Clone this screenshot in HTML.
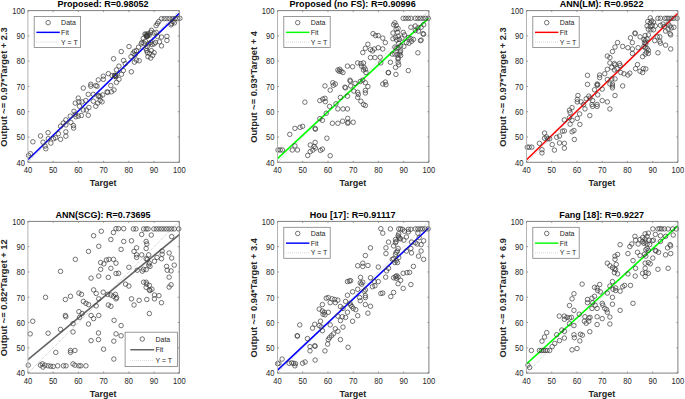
<!DOCTYPE html><html><head><meta charset="utf-8"><style>html,body{margin:0;padding:0;background:#fff;}svg{display:block}text{font-family:"Liberation Sans",sans-serif;}</style></head><body>
<svg width="685" height="399" viewBox="0 0 685 399">
<svg x="0" y="0" width="685" height="399" overflow="hidden"><clipPath id="c0"><rect x="27.9" y="10.6" width="151.4" height="151.7"/></clipPath><g clip-path="url(#c0)" fill="none" stroke="#3a3a3a" stroke-width="0.7"><line x1="27.90" y1="162.30" x2="179.30" y2="10.60" stroke="#999" stroke-width="0.7" stroke-dasharray="0.8 1.2"/></g></svg>
<svg x="0" y="0" width="685" height="399" overflow="hidden"><g clip-path="url(#c0)" fill="none"><line x1="27.90" y1="159.80" x2="179.30" y2="13.31" stroke="#0000ff" stroke-width="1.6"/></g></svg>
<g fill="none" stroke="#3a3a3a" stroke-width="0.7"><circle cx="30.38" cy="153.73" r="2.25"/><circle cx="28.50" cy="155.36" r="2.25"/><circle cx="32.89" cy="141.82" r="2.25"/><circle cx="40.53" cy="135.93" r="2.25"/><circle cx="48.05" cy="132.67" r="2.25"/><circle cx="43.04" cy="142.20" r="2.25"/><circle cx="45.80" cy="148.71" r="2.25"/><circle cx="48.30" cy="138.69" r="2.25"/><circle cx="50.81" cy="143.08" r="2.25"/><circle cx="53.57" cy="138.69" r="2.25"/><circle cx="55.57" cy="137.81" r="2.25"/><circle cx="58.33" cy="133.68" r="2.25"/><circle cx="60.58" cy="139.32" r="2.25"/><circle cx="60.58" cy="126.16" r="2.25"/><circle cx="63.34" cy="123.03" r="2.25"/><circle cx="65.85" cy="119.89" r="2.25"/><circle cx="65.85" cy="131.80" r="2.25"/><circle cx="65.85" cy="136.18" r="2.25"/><circle cx="65.85" cy="124.90" r="2.25"/><circle cx="70.23" cy="116.13" r="2.25"/><circle cx="70.86" cy="122.40" r="2.25"/><circle cx="73.37" cy="125.53" r="2.25"/><circle cx="73.62" cy="128.04" r="2.25"/><circle cx="75.25" cy="114.25" r="2.25"/><circle cx="75.87" cy="116.76" r="2.25"/><circle cx="78.25" cy="98.09" r="2.25"/><circle cx="78.88" cy="101.85" r="2.25"/><circle cx="82.01" cy="101.85" r="2.25"/><circle cx="79.51" cy="106.23" r="2.25"/><circle cx="83.27" cy="109.99" r="2.25"/><circle cx="86.40" cy="109.99" r="2.25"/><circle cx="88.90" cy="107.49" r="2.25"/><circle cx="85.77" cy="100.59" r="2.25"/><circle cx="88.28" cy="94.33" r="2.25"/><circle cx="93.29" cy="94.33" r="2.25"/><circle cx="93.29" cy="101.22" r="2.25"/><circle cx="95.80" cy="106.23" r="2.25"/><circle cx="97.68" cy="103.10" r="2.25"/><circle cx="98.93" cy="95.58" r="2.25"/><circle cx="100.18" cy="96.83" r="2.25"/><circle cx="102.06" cy="101.85" r="2.25"/><circle cx="102.69" cy="94.95" r="2.25"/><circle cx="100.18" cy="100.59" r="2.25"/><circle cx="83.27" cy="88.06" r="2.25"/><circle cx="90.78" cy="86.18" r="2.25"/><circle cx="90.78" cy="84.30" r="2.25"/><circle cx="95.80" cy="85.56" r="2.25"/><circle cx="97.05" cy="86.18" r="2.25"/><circle cx="98.30" cy="79.92" r="2.25"/><circle cx="103.32" cy="76.16" r="2.25"/><circle cx="103.32" cy="79.29" r="2.25"/><circle cx="108.33" cy="73.65" r="2.25"/><circle cx="107.70" cy="92.45" r="2.25"/><circle cx="110.83" cy="85.56" r="2.25"/><circle cx="111.46" cy="91.82" r="2.25"/><circle cx="113.97" cy="89.94" r="2.25"/><circle cx="112.09" cy="75.53" r="2.25"/><circle cx="114.59" cy="75.53" r="2.25"/><circle cx="115.85" cy="76.78" r="2.25"/><circle cx="116.47" cy="82.42" r="2.25"/><circle cx="118.98" cy="79.29" r="2.25"/><circle cx="118.98" cy="66.13" r="2.25"/><circle cx="116.47" cy="69.89" r="2.25"/><circle cx="121.49" cy="74.28" r="2.25"/><circle cx="123.37" cy="70.52" r="2.25"/><circle cx="125.25" cy="63.63" r="2.25"/><circle cx="107.08" cy="91.82" r="2.25"/><circle cx="161.51" cy="18.66" r="2.25"/><circle cx="164.22" cy="18.66" r="2.25"/><circle cx="166.92" cy="18.66" r="2.25"/><circle cx="169.63" cy="18.66" r="2.25"/><circle cx="172.34" cy="18.66" r="2.25"/><circle cx="175.05" cy="18.66" r="2.25"/><circle cx="177.75" cy="18.66" r="2.25"/><circle cx="158.80" cy="21.50" r="2.25"/><circle cx="157.45" cy="23.53" r="2.25"/><circle cx="156.10" cy="25.56" r="2.25"/><circle cx="171.66" cy="23.53" r="2.25"/><circle cx="173.02" cy="21.50" r="2.25"/><circle cx="174.37" cy="22.86" r="2.25"/><circle cx="170.98" cy="24.89" r="2.25"/><circle cx="145.95" cy="34.36" r="2.25"/><circle cx="147.30" cy="35.71" r="2.25"/><circle cx="146.62" cy="36.39" r="2.25"/><circle cx="147.98" cy="33.68" r="2.25"/><circle cx="149.33" cy="35.04" r="2.25"/><circle cx="151.36" cy="30.30" r="2.25"/><circle cx="150.68" cy="32.33" r="2.25"/><circle cx="154.07" cy="33.01" r="2.25"/><circle cx="156.10" cy="32.33" r="2.25"/><circle cx="157.45" cy="36.39" r="2.25"/><circle cx="161.51" cy="37.07" r="2.25"/><circle cx="166.92" cy="36.39" r="2.25"/><circle cx="166.92" cy="40.45" r="2.25"/><circle cx="159.48" cy="41.80" r="2.25"/><circle cx="161.51" cy="45.86" r="2.25"/><circle cx="155.42" cy="42.48" r="2.25"/><circle cx="154.07" cy="43.83" r="2.25"/><circle cx="143.24" cy="38.42" r="2.25"/><circle cx="141.89" cy="42.48" r="2.25"/><circle cx="141.21" cy="43.83" r="2.25"/><circle cx="143.92" cy="43.16" r="2.25"/><circle cx="145.27" cy="41.13" r="2.25"/><circle cx="148.65" cy="43.83" r="2.25"/><circle cx="150.68" cy="42.48" r="2.25"/><circle cx="152.04" cy="44.51" r="2.25"/><circle cx="147.30" cy="46.54" r="2.25"/><circle cx="145.95" cy="48.57" r="2.25"/><circle cx="146.62" cy="50.60" r="2.25"/><circle cx="147.30" cy="52.63" r="2.25"/><circle cx="149.33" cy="53.31" r="2.25"/><circle cx="154.07" cy="52.63" r="2.25"/><circle cx="151.36" cy="50.60" r="2.25"/><circle cx="152.71" cy="55.34" r="2.25"/><circle cx="147.98" cy="56.69" r="2.25"/><circle cx="150.68" cy="58.05" r="2.25"/><circle cx="138.50" cy="47.22" r="2.25"/><circle cx="136.47" cy="50.60" r="2.25"/><circle cx="134.44" cy="51.28" r="2.25"/><circle cx="133.09" cy="53.31" r="2.25"/><circle cx="135.12" cy="54.66" r="2.25"/><circle cx="131.06" cy="56.69" r="2.25"/><circle cx="129.03" cy="46.54" r="2.25"/><circle cx="136.47" cy="60.08" r="2.25"/><circle cx="139.18" cy="60.75" r="2.25"/><circle cx="134.44" cy="62.11" r="2.25"/><circle cx="131.33" cy="71.80" r="2.25"/><circle cx="179.90" cy="18.30" r="2.25"/><circle cx="146.50" cy="35.50" r="2.25"/><circle cx="147.20" cy="36.40" r="2.25"/><circle cx="114.80" cy="75.60" r="2.25"/><circle cx="116.00" cy="75.20" r="2.25"/><circle cx="115.40" cy="76.40" r="2.25"/><circle cx="98.20" cy="96.30" r="2.25"/><circle cx="145.00" cy="34.00" r="2.25"/><circle cx="146.50" cy="36.20" r="2.25"/><circle cx="148.00" cy="35.00" r="2.25"/><circle cx="45.10" cy="146.10" r="2.25"/><circle cx="78.25" cy="116.13" r="2.25"/><circle cx="81.39" cy="115.51" r="2.25"/><circle cx="88.28" cy="115.26" r="2.25"/><circle cx="75.25" cy="103.10" r="2.25"/><circle cx="73.99" cy="111.25" r="2.25"/><circle cx="121.28" cy="51.58" r="2.25"/><circle cx="113.57" cy="58.75" r="2.25"/><circle cx="123.54" cy="60.48" r="2.25"/></g>
<path d="M27.90 10.60H179.30V162.30H27.90" fill="none" stroke="#808080" stroke-width="1"/>
<path d="M27.90 10.60V162.30" fill="none" stroke="#b4b4b4" stroke-width="1"/>
<path d="M27.90 162.30v-1.5M27.90 10.60v1.5M27.90 162.30h1.5M179.30 162.30h-1.5M53.13 162.30v-1.5M53.13 10.60v1.5M27.90 137.02h1.5M179.30 137.02h-1.5M78.37 162.30v-1.5M78.37 10.60v1.5M27.90 111.73h1.5M179.30 111.73h-1.5M103.60 162.30v-1.5M103.60 10.60v1.5M27.90 86.45h1.5M179.30 86.45h-1.5M128.83 162.30v-1.5M128.83 10.60v1.5M27.90 61.17h1.5M179.30 61.17h-1.5M154.07 162.30v-1.5M154.07 10.60v1.5M27.90 35.88h1.5M179.30 35.88h-1.5M179.30 162.30v-1.5M179.30 10.60v1.5M27.90 10.60h1.5M179.30 10.60h-1.5" stroke="#808080" stroke-width="0.8" fill="none"/>
<text transform="translate(27.90 173.30) scale(1 1.1)" font-size="7.6" fill="#262626" text-anchor="middle">40</text>
<text transform="translate(24.90 165.60) scale(1 1.1)" font-size="7.6" fill="#262626" text-anchor="end">40</text>
<text transform="translate(53.13 173.30) scale(1 1.1)" font-size="7.6" fill="#262626" text-anchor="middle">50</text>
<text transform="translate(24.90 140.32) scale(1 1.1)" font-size="7.6" fill="#262626" text-anchor="end">50</text>
<text transform="translate(78.37 173.30) scale(1 1.1)" font-size="7.6" fill="#262626" text-anchor="middle">60</text>
<text transform="translate(24.90 115.03) scale(1 1.1)" font-size="7.6" fill="#262626" text-anchor="end">60</text>
<text transform="translate(103.60 173.30) scale(1 1.1)" font-size="7.6" fill="#262626" text-anchor="middle">70</text>
<text transform="translate(24.90 89.75) scale(1 1.1)" font-size="7.6" fill="#262626" text-anchor="end">70</text>
<text transform="translate(128.83 173.30) scale(1 1.1)" font-size="7.6" fill="#262626" text-anchor="middle">80</text>
<text transform="translate(24.90 64.47) scale(1 1.1)" font-size="7.6" fill="#262626" text-anchor="end">80</text>
<text transform="translate(154.07 173.30) scale(1 1.1)" font-size="7.6" fill="#262626" text-anchor="middle">90</text>
<text transform="translate(24.90 39.18) scale(1 1.1)" font-size="7.6" fill="#262626" text-anchor="end">90</text>
<text transform="translate(179.30 173.30) scale(1 1.1)" font-size="7.6" fill="#262626" text-anchor="middle">100</text>
<text transform="translate(24.90 13.90) scale(1 1.1)" font-size="7.6" fill="#262626" text-anchor="end">100</text>
<text transform="translate(103.00 7.10) scale(1 1.1)" font-size="9" font-weight="bold" fill="#000" text-anchor="middle" textLength="91.2" lengthAdjust="spacing">Proposed: R=0.98052</text>
<text transform="translate(103.20 185.70) scale(1 1.1)" font-size="9" font-weight="bold" fill="#262626" text-anchor="middle">Target</text>
<text transform="translate(7.20 86.95) rotate(-90)" font-size="9.3" font-weight="bold" fill="#262626" text-anchor="middle">Output ~= 0.97*Target + 2.3</text>
<rect x="34.20" y="16.50" width="46.4" height="31" fill="#fff" stroke="#808080" stroke-width="0.8"/>
<circle cx="48.11" cy="22.65" r="2.25" fill="none" stroke="#3a3a3a" stroke-width="0.7"/>
<line x1="36.40" y1="32.35" x2="59.81" y2="32.35" stroke="#0000ff" stroke-width="1.45"/>
<line x1="36.40" y1="42.05" x2="59.81" y2="42.05" stroke="#aaa" stroke-width="0.6" stroke-dasharray="0.8 1.2"/>
<text transform="translate(61.11 25.25) scale(1 1.1)" font-size="7" fill="#262626">Data</text>
<text transform="translate(61.11 34.95) scale(1 1.1)" font-size="7" fill="#262626">Fit</text>
<text transform="translate(61.11 44.65) scale(1 1.1)" font-size="7" fill="#262626">Y = T</text>
<svg x="0" y="0" width="685" height="399" overflow="hidden"><clipPath id="c1"><rect x="277.5" y="10.6" width="151.4" height="151.7"/></clipPath><g clip-path="url(#c1)" fill="none" stroke="#3a3a3a" stroke-width="0.7"><line x1="277.50" y1="162.30" x2="428.90" y2="10.60" stroke="#999" stroke-width="0.7" stroke-dasharray="0.8 1.2"/></g></svg>
<svg x="0" y="0" width="685" height="399" overflow="hidden"><g clip-path="url(#c1)" fill="none"><line x1="277.50" y1="158.71" x2="428.90" y2="17.93" stroke="#00ff00" stroke-width="1.6"/></g></svg>
<g fill="none" stroke="#3a3a3a" stroke-width="0.7"><circle cx="278.02" cy="149.96" r="2.25"/><circle cx="280.20" cy="149.96" r="2.25"/><circle cx="282.37" cy="149.96" r="2.25"/><circle cx="289.79" cy="134.37" r="2.25"/><circle cx="294.90" cy="128.36" r="2.25"/><circle cx="300.02" cy="127.34" r="2.25"/><circle cx="302.58" cy="126.32" r="2.25"/><circle cx="315.11" cy="128.36" r="2.25"/><circle cx="315.36" cy="129.26" r="2.25"/><circle cx="319.84" cy="118.65" r="2.25"/><circle cx="322.40" cy="120.31" r="2.25"/><circle cx="326.23" cy="113.28" r="2.25"/><circle cx="294.90" cy="145.87" r="2.25"/><circle cx="292.35" cy="149.96" r="2.25"/><circle cx="297.46" cy="149.96" r="2.25"/><circle cx="310.25" cy="144.98" r="2.25"/><circle cx="315.11" cy="142.42" r="2.25"/><circle cx="314.08" cy="146.51" r="2.25"/><circle cx="315.36" cy="148.05" r="2.25"/><circle cx="312.81" cy="150.09" r="2.25"/><circle cx="310.25" cy="151.62" r="2.25"/><circle cx="307.69" cy="155.46" r="2.25"/><circle cx="320.48" cy="150.35" r="2.25"/><circle cx="322.40" cy="149.07" r="2.25"/><circle cx="326.87" cy="138.20" r="2.25"/><circle cx="332.37" cy="123.25" r="2.25"/><circle cx="337.87" cy="123.25" r="2.25"/><circle cx="342.60" cy="121.20" r="2.25"/><circle cx="347.72" cy="118.39" r="2.25"/><circle cx="347.72" cy="123.25" r="2.25"/><circle cx="348.10" cy="122.23" r="2.25"/><circle cx="353.21" cy="122.23" r="2.25"/><circle cx="330.20" cy="155.71" r="2.25"/><circle cx="304.88" cy="102.16" r="2.25"/><circle cx="324.95" cy="85.92" r="2.25"/><circle cx="319.84" cy="100.62" r="2.25"/><circle cx="322.78" cy="99.09" r="2.25"/><circle cx="324.95" cy="98.32" r="2.25"/><circle cx="325.34" cy="101.65" r="2.25"/><circle cx="357.69" cy="62.92" r="2.25"/><circle cx="360.89" cy="63.56" r="2.25"/><circle cx="363.45" cy="62.92" r="2.25"/><circle cx="361.53" cy="66.11" r="2.25"/><circle cx="364.08" cy="67.39" r="2.25"/><circle cx="365.36" cy="69.31" r="2.25"/><circle cx="366.00" cy="72.50" r="2.25"/><circle cx="363.45" cy="69.95" r="2.25"/><circle cx="347.46" cy="66.11" r="2.25"/><circle cx="352.58" cy="66.75" r="2.25"/><circle cx="337.87" cy="69.95" r="2.25"/><circle cx="339.79" cy="69.31" r="2.25"/><circle cx="341.07" cy="71.23" r="2.25"/><circle cx="342.98" cy="72.50" r="2.25"/><circle cx="339.15" cy="71.23" r="2.25"/><circle cx="332.75" cy="82.73" r="2.25"/><circle cx="335.31" cy="84.01" r="2.25"/><circle cx="333.39" cy="85.29" r="2.25"/><circle cx="330.20" cy="90.14" r="2.25"/><circle cx="350.02" cy="80.17" r="2.25"/><circle cx="350.27" cy="81.20" r="2.25"/><circle cx="345.54" cy="87.84" r="2.25"/><circle cx="344.90" cy="87.20" r="2.25"/><circle cx="350.66" cy="85.92" r="2.25"/><circle cx="355.13" cy="83.37" r="2.25"/><circle cx="360.25" cy="81.45" r="2.25"/><circle cx="362.81" cy="80.17" r="2.25"/><circle cx="365.36" cy="82.73" r="2.25"/><circle cx="367.92" cy="86.56" r="2.25"/><circle cx="353.85" cy="91.04" r="2.25"/><circle cx="357.69" cy="92.32" r="2.25"/><circle cx="358.33" cy="94.49" r="2.25"/><circle cx="357.69" cy="97.43" r="2.25"/><circle cx="360.89" cy="101.26" r="2.25"/><circle cx="363.45" cy="104.46" r="2.25"/><circle cx="365.36" cy="105.48" r="2.25"/><circle cx="365.36" cy="90.40" r="2.25"/><circle cx="365.36" cy="92.95" r="2.25"/><circle cx="347.46" cy="96.15" r="2.25"/><circle cx="340.43" cy="97.43" r="2.25"/><circle cx="335.95" cy="103.82" r="2.25"/><circle cx="337.87" cy="108.93" r="2.25"/><circle cx="342.98" cy="108.93" r="2.25"/><circle cx="347.46" cy="108.93" r="2.25"/><circle cx="329.56" cy="106.38" r="2.25"/><circle cx="380.83" cy="62.92" r="2.25"/><circle cx="390.42" cy="62.28" r="2.25"/><circle cx="398.08" cy="62.28" r="2.25"/><circle cx="398.72" cy="64.83" r="2.25"/><circle cx="395.53" cy="67.39" r="2.25"/><circle cx="388.24" cy="72.50" r="2.25"/><circle cx="388.50" cy="72.76" r="2.25"/><circle cx="395.91" cy="74.42" r="2.25"/><circle cx="408.30" cy="70.59" r="2.25"/><circle cx="382.75" cy="84.01" r="2.25"/><circle cx="385.30" cy="82.09" r="2.25"/><circle cx="385.94" cy="84.65" r="2.25"/><circle cx="373.04" cy="33.65" r="2.25"/><circle cx="375.59" cy="35.56" r="2.25"/><circle cx="367.92" cy="44.26" r="2.25"/><circle cx="365.36" cy="48.35" r="2.25"/><circle cx="362.81" cy="52.56" r="2.25"/><circle cx="370.48" cy="49.62" r="2.25"/><circle cx="372.40" cy="50.90" r="2.25"/><circle cx="374.31" cy="48.98" r="2.25"/><circle cx="370.48" cy="57.55" r="2.25"/><circle cx="374.95" cy="57.55" r="2.25"/><circle cx="403.19" cy="18.31" r="2.25"/><circle cx="405.75" cy="18.31" r="2.25"/><circle cx="408.30" cy="18.31" r="2.25"/><circle cx="410.86" cy="18.31" r="2.25"/><circle cx="415.33" cy="18.31" r="2.25"/><circle cx="417.88" cy="18.31" r="2.25"/><circle cx="420.44" cy="18.31" r="2.25"/><circle cx="423.00" cy="18.31" r="2.25"/><circle cx="425.55" cy="18.31" r="2.25"/><circle cx="394.89" cy="22.78" r="2.25"/><circle cx="393.61" cy="24.70" r="2.25"/><circle cx="396.16" cy="25.34" r="2.25"/><circle cx="398.08" cy="28.53" r="2.25"/><circle cx="396.16" cy="29.17" r="2.25"/><circle cx="410.86" cy="27.26" r="2.25"/><circle cx="415.33" cy="25.98" r="2.25"/><circle cx="417.88" cy="27.89" r="2.25"/><circle cx="421.08" cy="27.26" r="2.25"/><circle cx="423.63" cy="24.70" r="2.25"/><circle cx="415.33" cy="30.45" r="2.25"/><circle cx="418.52" cy="31.09" r="2.25"/><circle cx="423.00" cy="33.65" r="2.25"/><circle cx="423.63" cy="34.29" r="2.25"/><circle cx="392.97" cy="33.01" r="2.25"/><circle cx="397.44" cy="32.37" r="2.25"/><circle cx="403.19" cy="32.37" r="2.25"/><circle cx="404.47" cy="34.92" r="2.25"/><circle cx="378.28" cy="35.56" r="2.25"/><circle cx="382.75" cy="38.12" r="2.25"/><circle cx="385.30" cy="42.59" r="2.25"/><circle cx="392.97" cy="38.76" r="2.25"/><circle cx="395.53" cy="37.48" r="2.25"/><circle cx="398.08" cy="36.20" r="2.25"/><circle cx="396.80" cy="40.04" r="2.25"/><circle cx="399.36" cy="39.40" r="2.25"/><circle cx="401.91" cy="38.12" r="2.25"/><circle cx="408.30" cy="37.48" r="2.25"/><circle cx="410.86" cy="38.76" r="2.25"/><circle cx="413.41" cy="39.40" r="2.25"/><circle cx="411.50" cy="41.32" r="2.25"/><circle cx="408.94" cy="43.23" r="2.25"/><circle cx="406.39" cy="42.59" r="2.25"/><circle cx="421.08" cy="40.04" r="2.25"/><circle cx="420.44" cy="40.68" r="2.25"/><circle cx="403.83" cy="46.43" r="2.25"/><circle cx="400.64" cy="45.79" r="2.25"/><circle cx="398.72" cy="43.23" r="2.25"/><circle cx="394.89" cy="47.07" r="2.25"/><circle cx="396.16" cy="48.35" r="2.25"/><circle cx="398.08" cy="47.71" r="2.25"/><circle cx="378.28" cy="47.71" r="2.25"/><circle cx="382.75" cy="48.98" r="2.25"/><circle cx="400.64" cy="50.90" r="2.25"/><circle cx="400.00" cy="52.18" r="2.25"/><circle cx="392.33" cy="54.10" r="2.25"/><circle cx="394.89" cy="54.10" r="2.25"/><circle cx="397.44" cy="54.74" r="2.25"/><circle cx="399.36" cy="54.10" r="2.25"/><circle cx="400.64" cy="55.38" r="2.25"/><circle cx="398.08" cy="57.93" r="2.25"/><circle cx="398.08" cy="59.21" r="2.25"/><circle cx="380.19" cy="57.29" r="2.25"/><circle cx="417.88" cy="52.82" r="2.25"/><circle cx="428.30" cy="18.30" r="2.25"/></g>
<path d="M277.50 10.60H428.90V162.30H277.50" fill="none" stroke="#808080" stroke-width="1"/>
<path d="M277.50 10.60V162.30" fill="none" stroke="#b4b4b4" stroke-width="1"/>
<path d="M277.50 162.30v-1.5M277.50 10.60v1.5M277.50 162.30h1.5M428.90 162.30h-1.5M302.73 162.30v-1.5M302.73 10.60v1.5M277.50 137.02h1.5M428.90 137.02h-1.5M327.97 162.30v-1.5M327.97 10.60v1.5M277.50 111.73h1.5M428.90 111.73h-1.5M353.20 162.30v-1.5M353.20 10.60v1.5M277.50 86.45h1.5M428.90 86.45h-1.5M378.43 162.30v-1.5M378.43 10.60v1.5M277.50 61.17h1.5M428.90 61.17h-1.5M403.67 162.30v-1.5M403.67 10.60v1.5M277.50 35.88h1.5M428.90 35.88h-1.5M428.90 162.30v-1.5M428.90 10.60v1.5M277.50 10.60h1.5M428.90 10.60h-1.5" stroke="#808080" stroke-width="0.8" fill="none"/>
<text transform="translate(277.50 173.30) scale(1 1.1)" font-size="7.6" fill="#262626" text-anchor="middle">40</text>
<text transform="translate(274.50 165.60) scale(1 1.1)" font-size="7.6" fill="#262626" text-anchor="end">40</text>
<text transform="translate(302.73 173.30) scale(1 1.1)" font-size="7.6" fill="#262626" text-anchor="middle">50</text>
<text transform="translate(274.50 140.32) scale(1 1.1)" font-size="7.6" fill="#262626" text-anchor="end">50</text>
<text transform="translate(327.97 173.30) scale(1 1.1)" font-size="7.6" fill="#262626" text-anchor="middle">60</text>
<text transform="translate(274.50 115.03) scale(1 1.1)" font-size="7.6" fill="#262626" text-anchor="end">60</text>
<text transform="translate(353.20 173.30) scale(1 1.1)" font-size="7.6" fill="#262626" text-anchor="middle">70</text>
<text transform="translate(274.50 89.75) scale(1 1.1)" font-size="7.6" fill="#262626" text-anchor="end">70</text>
<text transform="translate(378.43 173.30) scale(1 1.1)" font-size="7.6" fill="#262626" text-anchor="middle">80</text>
<text transform="translate(274.50 64.47) scale(1 1.1)" font-size="7.6" fill="#262626" text-anchor="end">80</text>
<text transform="translate(403.67 173.30) scale(1 1.1)" font-size="7.6" fill="#262626" text-anchor="middle">90</text>
<text transform="translate(274.50 39.18) scale(1 1.1)" font-size="7.6" fill="#262626" text-anchor="end">90</text>
<text transform="translate(428.90 173.30) scale(1 1.1)" font-size="7.6" fill="#262626" text-anchor="middle">100</text>
<text transform="translate(274.50 13.90) scale(1 1.1)" font-size="7.6" fill="#262626" text-anchor="end">100</text>
<text transform="translate(352.60 7.10) scale(1 1.1)" font-size="9" font-weight="bold" fill="#000" text-anchor="middle" textLength="126.2" lengthAdjust="spacing">Proposed (no FS): R=0.90996</text>
<text transform="translate(352.80 185.70) scale(1 1.1)" font-size="9" font-weight="bold" fill="#262626" text-anchor="middle">Target</text>
<text transform="translate(256.80 86.95) rotate(-90)" font-size="9.3" font-weight="bold" fill="#262626" text-anchor="middle">Output ~= 0.93*Target + 4</text>
<rect x="283.80" y="16.50" width="46.4" height="31" fill="#fff" stroke="#808080" stroke-width="0.8"/>
<circle cx="297.71" cy="22.65" r="2.25" fill="none" stroke="#3a3a3a" stroke-width="0.7"/>
<line x1="286.00" y1="32.35" x2="309.41" y2="32.35" stroke="#00ff00" stroke-width="1.45"/>
<line x1="286.00" y1="42.05" x2="309.41" y2="42.05" stroke="#aaa" stroke-width="0.6" stroke-dasharray="0.8 1.2"/>
<text transform="translate(310.71 25.25) scale(1 1.1)" font-size="7" fill="#262626">Data</text>
<text transform="translate(310.71 34.95) scale(1 1.1)" font-size="7" fill="#262626">Fit</text>
<text transform="translate(310.71 44.65) scale(1 1.1)" font-size="7" fill="#262626">Y = T</text>
<svg x="0" y="0" width="685" height="399" overflow="hidden"><clipPath id="c2"><rect x="526.5" y="10.6" width="151.4" height="151.7"/></clipPath><g clip-path="url(#c2)" fill="none" stroke="#3a3a3a" stroke-width="0.7"><line x1="526.50" y1="162.30" x2="677.90" y2="10.60" stroke="#999" stroke-width="0.7" stroke-dasharray="0.8 1.2"/></g></svg>
<svg x="0" y="0" width="685" height="399" overflow="hidden"><g clip-path="url(#c2)" fill="none"><line x1="526.50" y1="159.80" x2="677.90" y2="13.31" stroke="#ff0000" stroke-width="1.6"/></g></svg>
<g fill="none" stroke="#3a3a3a" stroke-width="0.7"><circle cx="527.28" cy="147.15" r="2.25"/><circle cx="529.20" cy="147.15" r="2.25"/><circle cx="531.75" cy="147.15" r="2.25"/><circle cx="539.43" cy="143.32" r="2.25"/><circle cx="541.98" cy="149.71" r="2.25"/><circle cx="541.98" cy="152.90" r="2.25"/><circle cx="544.54" cy="133.09" r="2.25"/><circle cx="544.54" cy="138.20" r="2.25"/><circle cx="546.46" cy="136.92" r="2.25"/><circle cx="547.74" cy="138.84" r="2.25"/><circle cx="549.66" cy="138.84" r="2.25"/><circle cx="552.21" cy="144.59" r="2.25"/><circle cx="554.39" cy="150.09" r="2.25"/><circle cx="556.69" cy="137.31" r="2.25"/><circle cx="559.50" cy="136.03" r="2.25"/><circle cx="559.50" cy="142.93" r="2.25"/><circle cx="564.36" cy="143.32" r="2.25"/><circle cx="564.36" cy="148.17" r="2.25"/><circle cx="562.45" cy="131.17" r="2.25"/><circle cx="564.36" cy="130.92" r="2.25"/><circle cx="564.36" cy="119.92" r="2.25"/><circle cx="569.48" cy="117.75" r="2.25"/><circle cx="572.04" cy="120.31" r="2.25"/><circle cx="570.12" cy="124.14" r="2.25"/><circle cx="570.12" cy="112.64" r="2.25"/><circle cx="572.04" cy="131.81" r="2.25"/><circle cx="573.95" cy="130.53" r="2.25"/><circle cx="574.34" cy="139.48" r="2.25"/><circle cx="579.58" cy="113.92" r="2.25"/><circle cx="577.28" cy="118.39" r="2.25"/><circle cx="579.84" cy="124.40" r="2.25"/><circle cx="589.81" cy="115.58" r="2.25"/><circle cx="609.89" cy="62.92" r="2.25"/><circle cx="614.36" cy="63.56" r="2.25"/><circle cx="615.00" cy="64.83" r="2.25"/><circle cx="619.48" cy="63.56" r="2.25"/><circle cx="620.12" cy="65.47" r="2.25"/><circle cx="607.33" cy="69.31" r="2.25"/><circle cx="611.81" cy="67.39" r="2.25"/><circle cx="614.36" cy="69.95" r="2.25"/><circle cx="616.92" cy="68.67" r="2.25"/><circle cx="604.77" cy="73.78" r="2.25"/><circle cx="620.76" cy="72.50" r="2.25"/><circle cx="623.95" cy="73.78" r="2.25"/><circle cx="599.66" cy="75.06" r="2.25"/><circle cx="599.66" cy="77.62" r="2.25"/><circle cx="587.51" cy="75.32" r="2.25"/><circle cx="607.33" cy="79.53" r="2.25"/><circle cx="611.81" cy="78.89" r="2.25"/><circle cx="615.00" cy="78.89" r="2.25"/><circle cx="587.51" cy="84.39" r="2.25"/><circle cx="597.10" cy="84.01" r="2.25"/><circle cx="597.10" cy="85.29" r="2.25"/><circle cx="597.74" cy="84.65" r="2.25"/><circle cx="609.89" cy="84.01" r="2.25"/><circle cx="612.45" cy="84.01" r="2.25"/><circle cx="612.45" cy="85.92" r="2.25"/><circle cx="612.45" cy="87.84" r="2.25"/><circle cx="622.68" cy="85.92" r="2.25"/><circle cx="602.21" cy="89.12" r="2.25"/><circle cx="594.54" cy="89.76" r="2.25"/><circle cx="597.74" cy="94.87" r="2.25"/><circle cx="615.00" cy="95.51" r="2.25"/><circle cx="577.92" cy="95.51" r="2.25"/><circle cx="577.28" cy="99.35" r="2.25"/><circle cx="577.28" cy="101.90" r="2.25"/><circle cx="581.12" cy="101.90" r="2.25"/><circle cx="588.79" cy="96.15" r="2.25"/><circle cx="586.23" cy="98.71" r="2.25"/><circle cx="590.07" cy="98.07" r="2.25"/><circle cx="592.62" cy="100.62" r="2.25"/><circle cx="583.67" cy="104.46" r="2.25"/><circle cx="591.98" cy="104.46" r="2.25"/><circle cx="592.62" cy="106.38" r="2.25"/><circle cx="597.10" cy="104.46" r="2.25"/><circle cx="597.10" cy="106.38" r="2.25"/><circle cx="602.21" cy="100.62" r="2.25"/><circle cx="607.33" cy="101.90" r="2.25"/><circle cx="584.95" cy="108.93" r="2.25"/><circle cx="609.89" cy="108.93" r="2.25"/><circle cx="569.48" cy="110.21" r="2.25"/><circle cx="572.04" cy="107.65" r="2.25"/><circle cx="637.49" cy="64.58" r="2.25"/><circle cx="635.58" cy="68.67" r="2.25"/><circle cx="640.05" cy="71.23" r="2.25"/><circle cx="642.60" cy="72.50" r="2.25"/><circle cx="643.24" cy="68.67" r="2.25"/><circle cx="645.80" cy="68.92" r="2.25"/><circle cx="629.83" cy="73.14" r="2.25"/><circle cx="627.92" cy="75.06" r="2.25"/><circle cx="617.56" cy="42.59" r="2.25"/><circle cx="615.00" cy="47.07" r="2.25"/><circle cx="612.45" cy="51.54" r="2.25"/><circle cx="607.33" cy="56.02" r="2.25"/><circle cx="609.89" cy="57.55" r="2.25"/><circle cx="622.68" cy="46.43" r="2.25"/><circle cx="650.27" cy="17.92" r="2.25"/><circle cx="657.93" cy="18.31" r="2.25"/><circle cx="660.48" cy="18.31" r="2.25"/><circle cx="664.95" cy="18.31" r="2.25"/><circle cx="666.87" cy="18.31" r="2.25"/><circle cx="668.78" cy="18.31" r="2.25"/><circle cx="671.34" cy="18.31" r="2.25"/><circle cx="673.89" cy="18.31" r="2.25"/><circle cx="677.08" cy="18.31" r="2.25"/><circle cx="647.71" cy="21.50" r="2.25"/><circle cx="651.54" cy="20.86" r="2.25"/><circle cx="653.46" cy="22.14" r="2.25"/><circle cx="650.27" cy="22.78" r="2.25"/><circle cx="647.07" cy="25.98" r="2.25"/><circle cx="650.27" cy="26.62" r="2.25"/><circle cx="652.18" cy="25.34" r="2.25"/><circle cx="655.37" cy="25.98" r="2.25"/><circle cx="653.46" cy="29.81" r="2.25"/><circle cx="648.35" cy="29.17" r="2.25"/><circle cx="650.90" cy="29.81" r="2.25"/><circle cx="660.48" cy="25.34" r="2.25"/><circle cx="663.04" cy="24.06" r="2.25"/><circle cx="664.31" cy="26.62" r="2.25"/><circle cx="668.14" cy="24.06" r="2.25"/><circle cx="670.06" cy="25.98" r="2.25"/><circle cx="671.34" cy="27.89" r="2.25"/><circle cx="673.89" cy="27.26" r="2.25"/><circle cx="665.59" cy="31.09" r="2.25"/><circle cx="668.14" cy="29.17" r="2.25"/><circle cx="670.06" cy="33.65" r="2.25"/><circle cx="670.70" cy="34.92" r="2.25"/><circle cx="634.94" cy="33.01" r="2.25"/><circle cx="635.20" cy="33.65" r="2.25"/><circle cx="640.05" cy="36.84" r="2.25"/><circle cx="645.16" cy="35.56" r="2.25"/><circle cx="648.35" cy="34.92" r="2.25"/><circle cx="630.47" cy="37.86" r="2.25"/><circle cx="632.39" cy="42.59" r="2.25"/><circle cx="643.88" cy="39.40" r="2.25"/><circle cx="645.16" cy="40.68" r="2.25"/><circle cx="644.52" cy="42.59" r="2.25"/><circle cx="645.80" cy="43.87" r="2.25"/><circle cx="647.07" cy="38.76" r="2.25"/><circle cx="654.73" cy="40.68" r="2.25"/><circle cx="657.29" cy="36.84" r="2.25"/><circle cx="659.84" cy="36.84" r="2.25"/><circle cx="659.84" cy="41.32" r="2.25"/><circle cx="660.48" cy="43.23" r="2.25"/><circle cx="665.59" cy="45.15" r="2.25"/><circle cx="670.70" cy="48.98" r="2.25"/><circle cx="627.92" cy="47.71" r="2.25"/><circle cx="632.39" cy="48.98" r="2.25"/><circle cx="638.13" cy="47.71" r="2.25"/><circle cx="643.88" cy="46.43" r="2.25"/><circle cx="645.16" cy="47.71" r="2.25"/><circle cx="647.07" cy="48.35" r="2.25"/><circle cx="648.35" cy="50.26" r="2.25"/><circle cx="646.43" cy="52.18" r="2.25"/><circle cx="648.35" cy="53.46" r="2.25"/><circle cx="645.16" cy="54.10" r="2.25"/><circle cx="642.60" cy="56.65" r="2.25"/><circle cx="657.93" cy="52.82" r="2.25"/><circle cx="632.39" cy="53.46" r="2.25"/></g>
<path d="M526.50 10.60H677.90V162.30H526.50" fill="none" stroke="#808080" stroke-width="1"/>
<path d="M526.50 10.60V162.30" fill="none" stroke="#b4b4b4" stroke-width="1"/>
<path d="M526.50 162.30v-1.5M526.50 10.60v1.5M526.50 162.30h1.5M677.90 162.30h-1.5M551.73 162.30v-1.5M551.73 10.60v1.5M526.50 137.02h1.5M677.90 137.02h-1.5M576.97 162.30v-1.5M576.97 10.60v1.5M526.50 111.73h1.5M677.90 111.73h-1.5M602.20 162.30v-1.5M602.20 10.60v1.5M526.50 86.45h1.5M677.90 86.45h-1.5M627.43 162.30v-1.5M627.43 10.60v1.5M526.50 61.17h1.5M677.90 61.17h-1.5M652.67 162.30v-1.5M652.67 10.60v1.5M526.50 35.88h1.5M677.90 35.88h-1.5M677.90 162.30v-1.5M677.90 10.60v1.5M526.50 10.60h1.5M677.90 10.60h-1.5" stroke="#808080" stroke-width="0.8" fill="none"/>
<text transform="translate(526.50 173.30) scale(1 1.1)" font-size="7.6" fill="#262626" text-anchor="middle">40</text>
<text transform="translate(523.50 165.60) scale(1 1.1)" font-size="7.6" fill="#262626" text-anchor="end">40</text>
<text transform="translate(551.73 173.30) scale(1 1.1)" font-size="7.6" fill="#262626" text-anchor="middle">50</text>
<text transform="translate(523.50 140.32) scale(1 1.1)" font-size="7.6" fill="#262626" text-anchor="end">50</text>
<text transform="translate(576.97 173.30) scale(1 1.1)" font-size="7.6" fill="#262626" text-anchor="middle">60</text>
<text transform="translate(523.50 115.03) scale(1 1.1)" font-size="7.6" fill="#262626" text-anchor="end">60</text>
<text transform="translate(602.20 173.30) scale(1 1.1)" font-size="7.6" fill="#262626" text-anchor="middle">70</text>
<text transform="translate(523.50 89.75) scale(1 1.1)" font-size="7.6" fill="#262626" text-anchor="end">70</text>
<text transform="translate(627.43 173.30) scale(1 1.1)" font-size="7.6" fill="#262626" text-anchor="middle">80</text>
<text transform="translate(523.50 64.47) scale(1 1.1)" font-size="7.6" fill="#262626" text-anchor="end">80</text>
<text transform="translate(652.67 173.30) scale(1 1.1)" font-size="7.6" fill="#262626" text-anchor="middle">90</text>
<text transform="translate(523.50 39.18) scale(1 1.1)" font-size="7.6" fill="#262626" text-anchor="end">90</text>
<text transform="translate(677.90 173.30) scale(1 1.1)" font-size="7.6" fill="#262626" text-anchor="middle">100</text>
<text transform="translate(523.50 13.90) scale(1 1.1)" font-size="7.6" fill="#262626" text-anchor="end">100</text>
<text transform="translate(601.60 7.10) scale(1 1.1)" font-size="9" font-weight="bold" fill="#000" text-anchor="middle" textLength="83.6" lengthAdjust="spacing">ANN(LM): R=0.9522</text>
<text transform="translate(601.80 185.70) scale(1 1.1)" font-size="9" font-weight="bold" fill="#262626" text-anchor="middle">Target</text>
<text transform="translate(505.80 86.95) rotate(-90)" font-size="9.3" font-weight="bold" fill="#262626" text-anchor="middle">Output ~= 0.97*Target + 2.3</text>
<rect x="532.80" y="16.50" width="46.4" height="31" fill="#fff" stroke="#808080" stroke-width="0.8"/>
<circle cx="546.71" cy="22.65" r="2.25" fill="none" stroke="#3a3a3a" stroke-width="0.7"/>
<line x1="535.00" y1="32.35" x2="558.41" y2="32.35" stroke="#ff0000" stroke-width="1.45"/>
<line x1="535.00" y1="42.05" x2="558.41" y2="42.05" stroke="#aaa" stroke-width="0.6" stroke-dasharray="0.8 1.2"/>
<text transform="translate(559.71 25.25) scale(1 1.1)" font-size="7" fill="#262626">Data</text>
<text transform="translate(559.71 34.95) scale(1 1.1)" font-size="7" fill="#262626">Fit</text>
<text transform="translate(559.71 44.65) scale(1 1.1)" font-size="7" fill="#262626">Y = T</text>
<svg x="0" y="0" width="685" height="399" overflow="hidden"><clipPath id="c3"><rect x="27.9" y="221.4" width="151.4" height="151.7"/></clipPath><g clip-path="url(#c3)" fill="none" stroke="#3a3a3a" stroke-width="0.7"><line x1="27.90" y1="373.10" x2="179.30" y2="221.40" stroke="#999" stroke-width="0.7" stroke-dasharray="0.8 1.2"/></g></svg>
<svg x="0" y="0" width="685" height="399" overflow="hidden"><g clip-path="url(#c3)" fill="none"><line x1="27.90" y1="359.55" x2="179.30" y2="234.55" stroke="#636363" stroke-width="1.6"/></g></svg>
<g fill="none" stroke="#3a3a3a" stroke-width="0.7"><circle cx="75.34" cy="259.35" r="2.25"/><circle cx="60.50" cy="271.36" r="2.25"/><circle cx="45.54" cy="297.31" r="2.25"/><circle cx="65.36" cy="299.48" r="2.25"/><circle cx="70.48" cy="296.29" r="2.25"/><circle cx="65.36" cy="315.46" r="2.25"/><circle cx="65.75" cy="316.74" r="2.25"/><circle cx="32.75" cy="321.21" r="2.25"/><circle cx="30.20" cy="333.86" r="2.25"/><circle cx="48.10" cy="333.23" r="2.25"/><circle cx="60.50" cy="329.39" r="2.25"/><circle cx="73.04" cy="331.95" r="2.25"/><circle cx="73.04" cy="323.64" r="2.25"/><circle cx="55.77" cy="352.40" r="2.25"/><circle cx="70.48" cy="350.48" r="2.25"/><circle cx="70.48" cy="352.40" r="2.25"/><circle cx="74.95" cy="350.48" r="2.25"/><circle cx="28.28" cy="365.18" r="2.25"/><circle cx="40.43" cy="365.18" r="2.25"/><circle cx="42.35" cy="363.90" r="2.25"/><circle cx="42.98" cy="367.10" r="2.25"/><circle cx="44.90" cy="365.18" r="2.25"/><circle cx="48.10" cy="365.82" r="2.25"/><circle cx="50.66" cy="366.20" r="2.25"/><circle cx="53.21" cy="366.46" r="2.25"/><circle cx="57.69" cy="365.82" r="2.25"/><circle cx="63.45" cy="365.82" r="2.25"/><circle cx="66.00" cy="365.82" r="2.25"/><circle cx="73.04" cy="363.90" r="2.25"/><circle cx="74.95" cy="365.18" r="2.25"/><circle cx="88.51" cy="324.02" r="2.25"/><circle cx="121.12" cy="325.56" r="2.25"/><circle cx="98.48" cy="332.97" r="2.25"/><circle cx="116.00" cy="333.86" r="2.25"/><circle cx="121.12" cy="335.78" r="2.25"/><circle cx="91.07" cy="340.64" r="2.25"/><circle cx="98.48" cy="339.62" r="2.25"/><circle cx="113.83" cy="341.15" r="2.25"/><circle cx="103.60" cy="349.20" r="2.25"/><circle cx="113.83" cy="359.05" r="2.25"/><circle cx="78.92" cy="365.82" r="2.25"/><circle cx="80.84" cy="365.82" r="2.25"/><circle cx="85.95" cy="365.82" r="2.25"/><circle cx="98.74" cy="276.09" r="2.25"/><circle cx="91.07" cy="278.14" r="2.25"/><circle cx="108.33" cy="277.37" r="2.25"/><circle cx="116.00" cy="273.53" r="2.25"/><circle cx="118.56" cy="273.28" r="2.25"/><circle cx="125.59" cy="284.14" r="2.25"/><circle cx="93.62" cy="289.89" r="2.25"/><circle cx="96.18" cy="293.47" r="2.25"/><circle cx="103.21" cy="292.20" r="2.25"/><circle cx="78.92" cy="293.09" r="2.25"/><circle cx="81.48" cy="294.37" r="2.25"/><circle cx="107.69" cy="294.37" r="2.25"/><circle cx="110.89" cy="295.01" r="2.25"/><circle cx="113.45" cy="296.29" r="2.25"/><circle cx="115.36" cy="294.37" r="2.25"/><circle cx="116.00" cy="298.84" r="2.25"/><circle cx="116.64" cy="297.56" r="2.25"/><circle cx="98.74" cy="298.84" r="2.25"/><circle cx="83.39" cy="301.40" r="2.25"/><circle cx="85.95" cy="303.32" r="2.25"/><circle cx="88.51" cy="304.59" r="2.25"/><circle cx="96.18" cy="305.87" r="2.25"/><circle cx="108.33" cy="304.98" r="2.25"/><circle cx="110.89" cy="306.26" r="2.25"/><circle cx="78.92" cy="311.62" r="2.25"/><circle cx="82.12" cy="313.54" r="2.25"/><circle cx="91.07" cy="315.46" r="2.25"/><circle cx="93.62" cy="318.65" r="2.25"/><circle cx="98.74" cy="315.46" r="2.25"/><circle cx="79.56" cy="317.38" r="2.25"/><circle cx="114.08" cy="320.32" r="2.25"/><circle cx="116.00" cy="228.67" r="2.25"/><circle cx="118.56" cy="228.67" r="2.25"/><circle cx="123.68" cy="228.67" r="2.25"/><circle cx="113.45" cy="232.50" r="2.25"/><circle cx="101.30" cy="231.23" r="2.25"/><circle cx="93.62" cy="235.70" r="2.25"/><circle cx="110.89" cy="239.53" r="2.25"/><circle cx="123.68" cy="241.45" r="2.25"/><circle cx="98.74" cy="246.31" r="2.25"/><circle cx="121.12" cy="249.38" r="2.25"/><circle cx="88.51" cy="251.42" r="2.25"/><circle cx="100.66" cy="262.54" r="2.25"/><circle cx="103.85" cy="263.82" r="2.25"/><circle cx="106.41" cy="259.98" r="2.25"/><circle cx="108.97" cy="259.35" r="2.25"/><circle cx="113.45" cy="259.35" r="2.25"/><circle cx="116.00" cy="263.18" r="2.25"/><circle cx="100.66" cy="269.32" r="2.25"/><circle cx="110.89" cy="268.29" r="2.25"/><circle cx="133.39" cy="228.92" r="2.25"/><circle cx="135.94" cy="228.92" r="2.25"/><circle cx="143.60" cy="228.92" r="2.25"/><circle cx="146.16" cy="228.92" r="2.25"/><circle cx="148.07" cy="228.92" r="2.25"/><circle cx="153.82" cy="228.92" r="2.25"/><circle cx="156.37" cy="228.92" r="2.25"/><circle cx="158.93" cy="228.92" r="2.25"/><circle cx="161.48" cy="228.92" r="2.25"/><circle cx="164.04" cy="228.92" r="2.25"/><circle cx="166.59" cy="228.92" r="2.25"/><circle cx="169.14" cy="228.92" r="2.25"/><circle cx="171.70" cy="228.92" r="2.25"/><circle cx="174.25" cy="228.92" r="2.25"/><circle cx="178.72" cy="228.92" r="2.25"/><circle cx="141.69" cy="234.42" r="2.25"/><circle cx="151.27" cy="235.06" r="2.25"/><circle cx="171.70" cy="236.59" r="2.25"/><circle cx="131.47" cy="240.81" r="2.25"/><circle cx="146.16" cy="241.45" r="2.25"/><circle cx="146.80" cy="244.01" r="2.25"/><circle cx="146.16" cy="248.48" r="2.25"/><circle cx="136.58" cy="247.84" r="2.25"/><circle cx="134.02" cy="251.42" r="2.25"/><circle cx="136.58" cy="254.87" r="2.25"/><circle cx="136.58" cy="257.43" r="2.25"/><circle cx="141.69" cy="254.87" r="2.25"/><circle cx="148.71" cy="254.87" r="2.25"/><circle cx="146.16" cy="258.71" r="2.25"/><circle cx="147.43" cy="259.35" r="2.25"/><circle cx="162.12" cy="251.04" r="2.25"/><circle cx="162.12" cy="254.23" r="2.25"/><circle cx="157.01" cy="257.43" r="2.25"/><circle cx="154.46" cy="261.26" r="2.25"/><circle cx="161.48" cy="258.71" r="2.25"/><circle cx="169.14" cy="252.95" r="2.25"/><circle cx="171.70" cy="258.07" r="2.25"/><circle cx="174.25" cy="265.10" r="2.25"/><circle cx="128.92" cy="267.27" r="2.25"/><circle cx="149.35" cy="263.18" r="2.25"/><circle cx="149.99" cy="266.38" r="2.25"/><circle cx="148.71" cy="265.10" r="2.25"/><circle cx="143.60" cy="269.32" r="2.25"/><circle cx="146.16" cy="269.57" r="2.25"/><circle cx="142.33" cy="271.11" r="2.25"/><circle cx="166.59" cy="266.38" r="2.25"/><circle cx="167.23" cy="270.21" r="2.25"/><circle cx="171.06" cy="270.85" r="2.25"/><circle cx="137.22" cy="270.21" r="2.25"/><circle cx="169.14" cy="277.11" r="2.25"/><circle cx="128.92" cy="286.06" r="2.25"/><circle cx="143.60" cy="282.23" r="2.25"/><circle cx="146.16" cy="282.23" r="2.25"/><circle cx="146.80" cy="284.14" r="2.25"/><circle cx="149.35" cy="285.42" r="2.25"/><circle cx="146.16" cy="287.34" r="2.25"/><circle cx="149.35" cy="289.89" r="2.25"/><circle cx="149.99" cy="290.53" r="2.25"/><circle cx="151.90" cy="289.26" r="2.25"/><circle cx="171.06" cy="284.78" r="2.25"/><circle cx="169.14" cy="287.08" r="2.25"/><circle cx="154.46" cy="295.01" r="2.25"/><circle cx="154.46" cy="298.84" r="2.25"/><circle cx="158.93" cy="295.65" r="2.25"/><circle cx="131.47" cy="298.84" r="2.25"/><circle cx="139.13" cy="300.38" r="2.25"/><circle cx="134.02" cy="304.98" r="2.25"/><circle cx="146.80" cy="299.48" r="2.25"/><circle cx="161.48" cy="302.68" r="2.25"/><circle cx="149.35" cy="313.54" r="2.25"/></g>
<path d="M27.90 221.40H179.30V373.10H27.90" fill="none" stroke="#808080" stroke-width="1"/>
<path d="M27.90 221.40V373.10" fill="none" stroke="#b4b4b4" stroke-width="1"/>
<path d="M27.90 373.10v-1.5M27.90 221.40v1.5M27.90 373.10h1.5M179.30 373.10h-1.5M53.13 373.10v-1.5M53.13 221.40v1.5M27.90 347.82h1.5M179.30 347.82h-1.5M78.37 373.10v-1.5M78.37 221.40v1.5M27.90 322.53h1.5M179.30 322.53h-1.5M103.60 373.10v-1.5M103.60 221.40v1.5M27.90 297.25h1.5M179.30 297.25h-1.5M128.83 373.10v-1.5M128.83 221.40v1.5M27.90 271.97h1.5M179.30 271.97h-1.5M154.07 373.10v-1.5M154.07 221.40v1.5M27.90 246.68h1.5M179.30 246.68h-1.5M179.30 373.10v-1.5M179.30 221.40v1.5M27.90 221.40h1.5M179.30 221.40h-1.5" stroke="#808080" stroke-width="0.8" fill="none"/>
<text transform="translate(27.90 384.10) scale(1 1.1)" font-size="7.6" fill="#262626" text-anchor="middle">40</text>
<text transform="translate(24.90 376.40) scale(1 1.1)" font-size="7.6" fill="#262626" text-anchor="end">40</text>
<text transform="translate(53.13 384.10) scale(1 1.1)" font-size="7.6" fill="#262626" text-anchor="middle">50</text>
<text transform="translate(24.90 351.12) scale(1 1.1)" font-size="7.6" fill="#262626" text-anchor="end">50</text>
<text transform="translate(78.37 384.10) scale(1 1.1)" font-size="7.6" fill="#262626" text-anchor="middle">60</text>
<text transform="translate(24.90 325.83) scale(1 1.1)" font-size="7.6" fill="#262626" text-anchor="end">60</text>
<text transform="translate(103.60 384.10) scale(1 1.1)" font-size="7.6" fill="#262626" text-anchor="middle">70</text>
<text transform="translate(24.90 300.55) scale(1 1.1)" font-size="7.6" fill="#262626" text-anchor="end">70</text>
<text transform="translate(128.83 384.10) scale(1 1.1)" font-size="7.6" fill="#262626" text-anchor="middle">80</text>
<text transform="translate(24.90 275.27) scale(1 1.1)" font-size="7.6" fill="#262626" text-anchor="end">80</text>
<text transform="translate(154.07 384.10) scale(1 1.1)" font-size="7.6" fill="#262626" text-anchor="middle">90</text>
<text transform="translate(24.90 249.98) scale(1 1.1)" font-size="7.6" fill="#262626" text-anchor="end">90</text>
<text transform="translate(179.30 384.10) scale(1 1.1)" font-size="7.6" fill="#262626" text-anchor="middle">100</text>
<text transform="translate(24.90 224.70) scale(1 1.1)" font-size="7.6" fill="#262626" text-anchor="end">100</text>
<text transform="translate(103.00 217.90) scale(1 1.1)" font-size="9" font-weight="bold" fill="#000" text-anchor="middle" textLength="94.9" lengthAdjust="spacing">ANN(SCG): R=0.73695</text>
<text transform="translate(103.20 396.50) scale(1 1.1)" font-size="9" font-weight="bold" fill="#262626" text-anchor="middle">Target</text>
<text transform="translate(7.20 297.75) rotate(-90)" font-size="9.3" font-weight="bold" fill="#262626" text-anchor="middle">Output ~= 0.82*Target + 12</text>
<rect x="125.10" y="332.20" width="52.4" height="34.4" fill="#fff" stroke="#808080" stroke-width="0.8"/>
<circle cx="142.25" cy="339.05" r="2.25" fill="none" stroke="#3a3a3a" stroke-width="0.7"/>
<line x1="130.30" y1="349.75" x2="154.19" y2="349.75" stroke="#636363" stroke-width="1.45"/>
<line x1="130.30" y1="360.45" x2="154.19" y2="360.45" stroke="#aaa" stroke-width="0.6" stroke-dasharray="0.8 1.2"/>
<text transform="translate(155.49 341.65) scale(1 1.1)" font-size="7" fill="#262626">Data</text>
<text transform="translate(155.49 352.35) scale(1 1.1)" font-size="7" fill="#262626">Fit</text>
<text transform="translate(155.49 363.05) scale(1 1.1)" font-size="7" fill="#262626">Y = T</text>
<svg x="0" y="0" width="685" height="399" overflow="hidden"><clipPath id="c4"><rect x="277.5" y="221.4" width="151.4" height="151.7"/></clipPath><g clip-path="url(#c4)" fill="none" stroke="#3a3a3a" stroke-width="0.7"><line x1="277.50" y1="373.10" x2="428.90" y2="221.40" stroke="#999" stroke-width="0.7" stroke-dasharray="0.8 1.2"/></g></svg>
<svg x="0" y="0" width="685" height="399" overflow="hidden"><g clip-path="url(#c4)" fill="none"><line x1="277.50" y1="370.12" x2="428.90" y2="227.82" stroke="#0000ff" stroke-width="1.6"/></g></svg>
<g fill="none" stroke="#3a3a3a" stroke-width="0.7"><circle cx="299.76" cy="324.92" r="2.25"/><circle cx="312.55" cy="328.11" r="2.25"/><circle cx="314.72" cy="324.28" r="2.25"/><circle cx="319.20" cy="325.56" r="2.25"/><circle cx="321.12" cy="326.83" r="2.25"/><circle cx="322.40" cy="330.67" r="2.25"/><circle cx="297.20" cy="335.78" r="2.25"/><circle cx="297.46" cy="336.04" r="2.25"/><circle cx="307.43" cy="338.59" r="2.25"/><circle cx="309.99" cy="346.65" r="2.25"/><circle cx="309.99" cy="350.86" r="2.25"/><circle cx="314.72" cy="345.75" r="2.25"/><circle cx="315.11" cy="346.26" r="2.25"/><circle cx="324.95" cy="350.86" r="2.25"/><circle cx="282.12" cy="359.05" r="2.25"/><circle cx="278.92" cy="363.26" r="2.25"/><circle cx="277.64" cy="363.65" r="2.25"/><circle cx="289.15" cy="363.26" r="2.25"/><circle cx="291.71" cy="362.88" r="2.25"/><circle cx="293.62" cy="363.26" r="2.25"/><circle cx="295.54" cy="363.65" r="2.25"/><circle cx="294.90" cy="365.82" r="2.25"/><circle cx="302.58" cy="363.26" r="2.25"/><circle cx="305.13" cy="361.98" r="2.25"/><circle cx="315.11" cy="360.07" r="2.25"/><circle cx="330.20" cy="324.92" r="2.25"/><circle cx="335.31" cy="328.75" r="2.25"/><circle cx="337.87" cy="331.31" r="2.25"/><circle cx="342.98" cy="327.09" r="2.25"/><circle cx="333.39" cy="333.86" r="2.25"/><circle cx="331.48" cy="335.78" r="2.25"/><circle cx="329.56" cy="337.70" r="2.25"/><circle cx="328.28" cy="339.62" r="2.25"/><circle cx="327.64" cy="344.09" r="2.25"/><circle cx="340.43" cy="339.62" r="2.25"/><circle cx="348.10" cy="347.29" r="2.25"/><circle cx="326.23" cy="298.20" r="2.25"/><circle cx="322.40" cy="304.59" r="2.25"/><circle cx="319.20" cy="309.07" r="2.25"/><circle cx="322.40" cy="310.98" r="2.25"/><circle cx="324.31" cy="312.26" r="2.25"/><circle cx="323.04" cy="314.18" r="2.25"/><circle cx="324.95" cy="314.82" r="2.25"/><circle cx="320.48" cy="321.21" r="2.25"/><circle cx="347.46" cy="281.59" r="2.25"/><circle cx="349.38" cy="280.95" r="2.25"/><circle cx="350.66" cy="280.69" r="2.25"/><circle cx="360.50" cy="277.37" r="2.25"/><circle cx="370.48" cy="277.75" r="2.25"/><circle cx="360.25" cy="282.86" r="2.25"/><circle cx="362.81" cy="282.23" r="2.25"/><circle cx="361.53" cy="284.14" r="2.25"/><circle cx="372.40" cy="286.70" r="2.25"/><circle cx="374.95" cy="285.80" r="2.25"/><circle cx="374.31" cy="281.59" r="2.25"/><circle cx="365.36" cy="289.89" r="2.25"/><circle cx="364.08" cy="291.17" r="2.25"/><circle cx="357.69" cy="289.26" r="2.25"/><circle cx="352.58" cy="291.81" r="2.25"/><circle cx="347.46" cy="295.26" r="2.25"/><circle cx="365.36" cy="295.65" r="2.25"/><circle cx="365.36" cy="297.56" r="2.25"/><circle cx="359.61" cy="297.56" r="2.25"/><circle cx="360.25" cy="300.76" r="2.25"/><circle cx="328.28" cy="297.56" r="2.25"/><circle cx="332.12" cy="298.84" r="2.25"/><circle cx="334.67" cy="299.48" r="2.25"/><circle cx="337.87" cy="300.12" r="2.25"/><circle cx="330.20" cy="302.68" r="2.25"/><circle cx="335.31" cy="302.68" r="2.25"/><circle cx="345.54" cy="301.40" r="2.25"/><circle cx="350.02" cy="303.32" r="2.25"/><circle cx="350.66" cy="305.23" r="2.25"/><circle cx="351.94" cy="306.51" r="2.25"/><circle cx="353.21" cy="308.43" r="2.25"/><circle cx="355.77" cy="309.71" r="2.25"/><circle cx="340.43" cy="306.51" r="2.25"/><circle cx="342.98" cy="308.43" r="2.25"/><circle cx="365.36" cy="304.59" r="2.25"/><circle cx="370.48" cy="306.26" r="2.25"/><circle cx="347.46" cy="312.26" r="2.25"/><circle cx="367.92" cy="313.16" r="2.25"/><circle cx="328.28" cy="312.26" r="2.25"/><circle cx="357.69" cy="315.71" r="2.25"/><circle cx="337.87" cy="316.10" r="2.25"/><circle cx="342.35" cy="316.74" r="2.25"/><circle cx="345.54" cy="317.38" r="2.25"/><circle cx="340.43" cy="320.57" r="2.25"/><circle cx="352.58" cy="321.21" r="2.25"/><circle cx="385.69" cy="277.11" r="2.25"/><circle cx="378.28" cy="281.59" r="2.25"/><circle cx="393.61" cy="277.75" r="2.25"/><circle cx="395.53" cy="276.47" r="2.25"/><circle cx="396.80" cy="275.83" r="2.25"/><circle cx="398.08" cy="277.11" r="2.25"/><circle cx="396.16" cy="278.39" r="2.25"/><circle cx="400.64" cy="280.31" r="2.25"/><circle cx="398.08" cy="283.76" r="2.25"/><circle cx="403.19" cy="288.36" r="2.25"/><circle cx="410.86" cy="284.53" r="2.25"/><circle cx="403.19" cy="273.28" r="2.25"/><circle cx="407.02" cy="272.64" r="2.25"/><circle cx="409.58" cy="272.38" r="2.25"/><circle cx="380.83" cy="293.47" r="2.25"/><circle cx="382.75" cy="293.09" r="2.25"/><circle cx="393.61" cy="292.45" r="2.25"/><circle cx="390.80" cy="296.54" r="2.25"/><circle cx="380.83" cy="228.67" r="2.25"/><circle cx="390.42" cy="228.92" r="2.25"/><circle cx="398.72" cy="228.92" r="2.25"/><circle cx="400.64" cy="228.92" r="2.25"/><circle cx="402.55" cy="229.31" r="2.25"/><circle cx="408.30" cy="229.31" r="2.25"/><circle cx="410.86" cy="229.31" r="2.25"/><circle cx="415.33" cy="228.92" r="2.25"/><circle cx="417.88" cy="228.92" r="2.25"/><circle cx="420.44" cy="228.92" r="2.25"/><circle cx="422.36" cy="228.92" r="2.25"/><circle cx="424.91" cy="228.92" r="2.25"/><circle cx="428.11" cy="228.92" r="2.25"/><circle cx="382.75" cy="233.14" r="2.25"/><circle cx="398.72" cy="233.78" r="2.25"/><circle cx="398.08" cy="235.70" r="2.25"/><circle cx="398.72" cy="236.98" r="2.25"/><circle cx="399.36" cy="238.26" r="2.25"/><circle cx="404.47" cy="231.23" r="2.25"/><circle cx="408.30" cy="231.86" r="2.25"/><circle cx="406.39" cy="236.98" r="2.25"/><circle cx="403.83" cy="240.17" r="2.25"/><circle cx="395.53" cy="239.53" r="2.25"/><circle cx="396.16" cy="241.45" r="2.25"/><circle cx="395.53" cy="242.73" r="2.25"/><circle cx="400.64" cy="238.89" r="2.25"/><circle cx="388.50" cy="242.09" r="2.25"/><circle cx="385.94" cy="247.84" r="2.25"/><circle cx="393.61" cy="245.92" r="2.25"/><circle cx="385.94" cy="253.59" r="2.25"/><circle cx="398.08" cy="248.48" r="2.25"/><circle cx="397.44" cy="251.04" r="2.25"/><circle cx="396.16" cy="252.32" r="2.25"/><circle cx="395.53" cy="254.23" r="2.25"/><circle cx="406.39" cy="251.04" r="2.25"/><circle cx="410.86" cy="248.48" r="2.25"/><circle cx="411.50" cy="252.95" r="2.25"/><circle cx="411.50" cy="242.09" r="2.25"/><circle cx="415.33" cy="242.73" r="2.25"/><circle cx="417.25" cy="244.01" r="2.25"/><circle cx="417.88" cy="233.14" r="2.25"/><circle cx="419.16" cy="237.62" r="2.25"/><circle cx="421.08" cy="244.65" r="2.25"/><circle cx="423.63" cy="240.81" r="2.25"/><circle cx="421.08" cy="251.04" r="2.25"/><circle cx="418.52" cy="256.15" r="2.25"/><circle cx="423.63" cy="259.35" r="2.25"/><circle cx="393.61" cy="258.71" r="2.25"/><circle cx="396.16" cy="260.62" r="2.25"/><circle cx="397.44" cy="262.54" r="2.25"/><circle cx="398.72" cy="257.43" r="2.25"/><circle cx="394.89" cy="262.54" r="2.25"/><circle cx="392.33" cy="259.35" r="2.25"/><circle cx="378.28" cy="267.02" r="2.25"/><circle cx="388.50" cy="268.29" r="2.25"/><circle cx="386.58" cy="270.85" r="2.25"/><circle cx="413.41" cy="266.38" r="2.25"/><circle cx="370.48" cy="247.84" r="2.25"/><circle cx="365.36" cy="255.51" r="2.25"/><circle cx="357.69" cy="265.74" r="2.25"/><circle cx="362.81" cy="263.18" r="2.25"/><circle cx="362.81" cy="266.38" r="2.25"/><circle cx="367.92" cy="265.48" r="2.25"/></g>
<path d="M277.50 221.40H428.90V373.10H277.50" fill="none" stroke="#808080" stroke-width="1"/>
<path d="M277.50 221.40V373.10" fill="none" stroke="#b4b4b4" stroke-width="1"/>
<path d="M277.50 373.10v-1.5M277.50 221.40v1.5M277.50 373.10h1.5M428.90 373.10h-1.5M302.73 373.10v-1.5M302.73 221.40v1.5M277.50 347.82h1.5M428.90 347.82h-1.5M327.97 373.10v-1.5M327.97 221.40v1.5M277.50 322.53h1.5M428.90 322.53h-1.5M353.20 373.10v-1.5M353.20 221.40v1.5M277.50 297.25h1.5M428.90 297.25h-1.5M378.43 373.10v-1.5M378.43 221.40v1.5M277.50 271.97h1.5M428.90 271.97h-1.5M403.67 373.10v-1.5M403.67 221.40v1.5M277.50 246.68h1.5M428.90 246.68h-1.5M428.90 373.10v-1.5M428.90 221.40v1.5M277.50 221.40h1.5M428.90 221.40h-1.5" stroke="#808080" stroke-width="0.8" fill="none"/>
<text transform="translate(277.50 384.10) scale(1 1.1)" font-size="7.6" fill="#262626" text-anchor="middle">40</text>
<text transform="translate(274.50 376.40) scale(1 1.1)" font-size="7.6" fill="#262626" text-anchor="end">40</text>
<text transform="translate(302.73 384.10) scale(1 1.1)" font-size="7.6" fill="#262626" text-anchor="middle">50</text>
<text transform="translate(274.50 351.12) scale(1 1.1)" font-size="7.6" fill="#262626" text-anchor="end">50</text>
<text transform="translate(327.97 384.10) scale(1 1.1)" font-size="7.6" fill="#262626" text-anchor="middle">60</text>
<text transform="translate(274.50 325.83) scale(1 1.1)" font-size="7.6" fill="#262626" text-anchor="end">60</text>
<text transform="translate(353.20 384.10) scale(1 1.1)" font-size="7.6" fill="#262626" text-anchor="middle">70</text>
<text transform="translate(274.50 300.55) scale(1 1.1)" font-size="7.6" fill="#262626" text-anchor="end">70</text>
<text transform="translate(378.43 384.10) scale(1 1.1)" font-size="7.6" fill="#262626" text-anchor="middle">80</text>
<text transform="translate(274.50 275.27) scale(1 1.1)" font-size="7.6" fill="#262626" text-anchor="end">80</text>
<text transform="translate(403.67 384.10) scale(1 1.1)" font-size="7.6" fill="#262626" text-anchor="middle">90</text>
<text transform="translate(274.50 249.98) scale(1 1.1)" font-size="7.6" fill="#262626" text-anchor="end">90</text>
<text transform="translate(428.90 384.10) scale(1 1.1)" font-size="7.6" fill="#262626" text-anchor="middle">100</text>
<text transform="translate(274.50 224.70) scale(1 1.1)" font-size="7.6" fill="#262626" text-anchor="end">100</text>
<text transform="translate(352.60 217.90) scale(1 1.1)" font-size="9" font-weight="bold" fill="#000" text-anchor="middle" textLength="85.9" lengthAdjust="spacing">Hou [17]: R=0.91117</text>
<text transform="translate(352.80 396.50) scale(1 1.1)" font-size="9" font-weight="bold" fill="#262626" text-anchor="middle">Target</text>
<text transform="translate(256.80 297.75) rotate(-90)" font-size="9.3" font-weight="bold" fill="#262626" text-anchor="middle">Output ~= 0.94*Target + 3.4</text>
<rect x="283.80" y="227.30" width="46.4" height="31" fill="#fff" stroke="#808080" stroke-width="0.8"/>
<circle cx="297.71" cy="233.45" r="2.25" fill="none" stroke="#3a3a3a" stroke-width="0.7"/>
<line x1="286.00" y1="243.15" x2="309.41" y2="243.15" stroke="#0000ff" stroke-width="1.45"/>
<line x1="286.00" y1="252.85" x2="309.41" y2="252.85" stroke="#aaa" stroke-width="0.6" stroke-dasharray="0.8 1.2"/>
<text transform="translate(310.71 236.05) scale(1 1.1)" font-size="7" fill="#262626">Data</text>
<text transform="translate(310.71 245.75) scale(1 1.1)" font-size="7" fill="#262626">Fit</text>
<text transform="translate(310.71 255.45) scale(1 1.1)" font-size="7" fill="#262626">Y = T</text>
<svg x="0" y="0" width="685" height="399" overflow="hidden"><clipPath id="c5"><rect x="526.5" y="221.4" width="151.4" height="151.7"/></clipPath><g clip-path="url(#c5)" fill="none" stroke="#3a3a3a" stroke-width="0.7"><line x1="526.50" y1="373.10" x2="677.90" y2="221.40" stroke="#999" stroke-width="0.7" stroke-dasharray="0.8 1.2"/></g></svg>
<svg x="0" y="0" width="685" height="399" overflow="hidden"><g clip-path="url(#c5)" fill="none"><line x1="526.50" y1="363.90" x2="677.90" y2="225.70" stroke="#00ff00" stroke-width="1.6"/></g></svg>
<g fill="none" stroke="#3a3a3a" stroke-width="0.7"><circle cx="527.92" cy="365.18" r="2.25"/><circle cx="529.58" cy="367.48" r="2.25"/><circle cx="531.37" cy="350.48" r="2.25"/><circle cx="539.43" cy="350.48" r="2.25"/><circle cx="541.35" cy="350.48" r="2.25"/><circle cx="543.26" cy="350.48" r="2.25"/><circle cx="545.18" cy="350.48" r="2.25"/><circle cx="547.10" cy="350.48" r="2.25"/><circle cx="549.66" cy="350.48" r="2.25"/><circle cx="552.21" cy="346.65" r="2.25"/><circle cx="554.77" cy="343.45" r="2.25"/><circle cx="556.69" cy="334.76" r="2.25"/><circle cx="559.50" cy="340.64" r="2.25"/><circle cx="561.81" cy="330.03" r="2.25"/><circle cx="564.36" cy="331.31" r="2.25"/><circle cx="564.36" cy="338.08" r="2.25"/><circle cx="546.72" cy="332.59" r="2.25"/><circle cx="544.54" cy="337.06" r="2.25"/><circle cx="541.98" cy="341.15" r="2.25"/><circle cx="569.48" cy="323.64" r="2.25"/><circle cx="573.95" cy="325.56" r="2.25"/><circle cx="573.95" cy="334.76" r="2.25"/><circle cx="574.34" cy="337.70" r="2.25"/><circle cx="572.04" cy="349.84" r="2.25"/><circle cx="586.23" cy="323.26" r="2.25"/><circle cx="597.10" cy="324.53" r="2.25"/><circle cx="609.89" cy="324.02" r="2.25"/><circle cx="589.81" cy="331.69" r="2.25"/><circle cx="580.48" cy="334.25" r="2.25"/><circle cx="582.39" cy="335.14" r="2.25"/><circle cx="579.84" cy="340.89" r="2.25"/><circle cx="577.02" cy="348.56" r="2.25"/><circle cx="582.14" cy="284.14" r="2.25"/><circle cx="594.54" cy="287.34" r="2.25"/><circle cx="597.10" cy="287.98" r="2.25"/><circle cx="599.66" cy="284.53" r="2.25"/><circle cx="597.74" cy="290.53" r="2.25"/><circle cx="600.30" cy="291.81" r="2.25"/><circle cx="612.45" cy="281.59" r="2.25"/><circle cx="609.89" cy="286.06" r="2.25"/><circle cx="613.08" cy="289.26" r="2.25"/><circle cx="615.64" cy="287.98" r="2.25"/><circle cx="615.64" cy="290.53" r="2.25"/><circle cx="620.12" cy="291.17" r="2.25"/><circle cx="622.68" cy="286.70" r="2.25"/><circle cx="624.59" cy="285.42" r="2.25"/><circle cx="607.33" cy="293.09" r="2.25"/><circle cx="612.45" cy="297.31" r="2.25"/><circle cx="612.45" cy="304.21" r="2.25"/><circle cx="614.36" cy="272.64" r="2.25"/><circle cx="617.56" cy="273.92" r="2.25"/><circle cx="587.51" cy="299.48" r="2.25"/><circle cx="587.51" cy="302.68" r="2.25"/><circle cx="591.98" cy="298.20" r="2.25"/><circle cx="594.54" cy="296.29" r="2.25"/><circle cx="592.62" cy="302.68" r="2.25"/><circle cx="602.21" cy="303.32" r="2.25"/><circle cx="602.85" cy="305.23" r="2.25"/><circle cx="604.77" cy="308.43" r="2.25"/><circle cx="606.69" cy="309.71" r="2.25"/><circle cx="607.33" cy="312.26" r="2.25"/><circle cx="597.10" cy="308.43" r="2.25"/><circle cx="591.98" cy="308.43" r="2.25"/><circle cx="595.18" cy="305.23" r="2.25"/><circle cx="620.12" cy="310.35" r="2.25"/><circle cx="579.20" cy="314.18" r="2.25"/><circle cx="584.95" cy="316.74" r="2.25"/><circle cx="588.79" cy="318.02" r="2.25"/><circle cx="590.07" cy="317.38" r="2.25"/><circle cx="597.10" cy="316.74" r="2.25"/><circle cx="602.21" cy="318.65" r="2.25"/><circle cx="609.89" cy="316.99" r="2.25"/><circle cx="584.31" cy="321.21" r="2.25"/><circle cx="588.79" cy="321.21" r="2.25"/><circle cx="573.95" cy="293.73" r="2.25"/><circle cx="572.04" cy="298.84" r="2.25"/><circle cx="569.48" cy="305.49" r="2.25"/><circle cx="573.95" cy="310.35" r="2.25"/><circle cx="559.25" cy="316.10" r="2.25"/><circle cx="564.36" cy="316.10" r="2.25"/><circle cx="564.36" cy="319.29" r="2.25"/><circle cx="566.92" cy="317.38" r="2.25"/><circle cx="569.48" cy="318.02" r="2.25"/><circle cx="571.40" cy="317.38" r="2.25"/><circle cx="627.92" cy="273.92" r="2.25"/><circle cx="635.20" cy="276.09" r="2.25"/><circle cx="642.60" cy="273.28" r="2.25"/><circle cx="645.80" cy="272.64" r="2.25"/><circle cx="648.35" cy="273.28" r="2.25"/><circle cx="645.16" cy="276.47" r="2.25"/><circle cx="630.47" cy="285.42" r="2.25"/><circle cx="633.02" cy="303.32" r="2.25"/><circle cx="652.82" cy="228.92" r="2.25"/><circle cx="657.93" cy="228.92" r="2.25"/><circle cx="659.84" cy="228.67" r="2.25"/><circle cx="661.76" cy="228.92" r="2.25"/><circle cx="664.31" cy="228.92" r="2.25"/><circle cx="668.14" cy="228.92" r="2.25"/><circle cx="672.61" cy="228.92" r="2.25"/><circle cx="676.45" cy="228.92" r="2.25"/><circle cx="645.16" cy="233.78" r="2.25"/><circle cx="648.35" cy="233.14" r="2.25"/><circle cx="655.37" cy="234.42" r="2.25"/><circle cx="660.48" cy="235.70" r="2.25"/><circle cx="665.59" cy="236.34" r="2.25"/><circle cx="673.25" cy="235.06" r="2.25"/><circle cx="634.94" cy="236.34" r="2.25"/><circle cx="635.58" cy="240.17" r="2.25"/><circle cx="640.05" cy="239.53" r="2.25"/><circle cx="642.60" cy="237.62" r="2.25"/><circle cx="645.16" cy="238.89" r="2.25"/><circle cx="647.07" cy="236.34" r="2.25"/><circle cx="648.99" cy="240.17" r="2.25"/><circle cx="642.60" cy="241.45" r="2.25"/><circle cx="643.88" cy="243.37" r="2.25"/><circle cx="645.16" cy="242.09" r="2.25"/><circle cx="647.07" cy="244.01" r="2.25"/><circle cx="649.63" cy="244.65" r="2.25"/><circle cx="652.18" cy="240.81" r="2.25"/><circle cx="653.46" cy="240.17" r="2.25"/><circle cx="631.75" cy="244.01" r="2.25"/><circle cx="629.83" cy="246.56" r="2.25"/><circle cx="638.13" cy="244.01" r="2.25"/><circle cx="660.48" cy="241.45" r="2.25"/><circle cx="670.06" cy="244.65" r="2.25"/><circle cx="670.70" cy="245.92" r="2.25"/><circle cx="667.51" cy="247.84" r="2.25"/><circle cx="645.80" cy="249.76" r="2.25"/><circle cx="648.35" cy="250.40" r="2.25"/><circle cx="647.07" cy="248.48" r="2.25"/><circle cx="655.37" cy="250.40" r="2.25"/><circle cx="656.01" cy="251.04" r="2.25"/><circle cx="658.57" cy="252.32" r="2.25"/><circle cx="637.49" cy="252.32" r="2.25"/><circle cx="627.92" cy="253.59" r="2.25"/><circle cx="640.05" cy="255.51" r="2.25"/><circle cx="644.52" cy="254.23" r="2.25"/><circle cx="645.80" cy="256.15" r="2.25"/><circle cx="665.59" cy="254.87" r="2.25"/><circle cx="670.70" cy="253.59" r="2.25"/><circle cx="652.82" cy="258.07" r="2.25"/><circle cx="633.02" cy="260.62" r="2.25"/><circle cx="645.16" cy="263.18" r="2.25"/><circle cx="648.35" cy="262.54" r="2.25"/><circle cx="650.27" cy="263.82" r="2.25"/><circle cx="635.58" cy="268.29" r="2.25"/><circle cx="645.16" cy="268.29" r="2.25"/><circle cx="657.93" cy="269.32" r="2.25"/><circle cx="668.14" cy="268.29" r="2.25"/><circle cx="620.12" cy="244.65" r="2.25"/><circle cx="617.56" cy="254.49" r="2.25"/><circle cx="615.00" cy="256.15" r="2.25"/><circle cx="615.00" cy="259.35" r="2.25"/><circle cx="607.33" cy="263.18" r="2.25"/><circle cx="609.89" cy="265.74" r="2.25"/><circle cx="612.45" cy="267.65" r="2.25"/><circle cx="614.36" cy="268.93" r="2.25"/><circle cx="616.28" cy="264.46" r="2.25"/><circle cx="615.64" cy="269.57" r="2.25"/></g>
<path d="M526.50 221.40H677.90V373.10H526.50" fill="none" stroke="#808080" stroke-width="1"/>
<path d="M526.50 221.40V373.10" fill="none" stroke="#b4b4b4" stroke-width="1"/>
<path d="M526.50 373.10v-1.5M526.50 221.40v1.5M526.50 373.10h1.5M677.90 373.10h-1.5M551.73 373.10v-1.5M551.73 221.40v1.5M526.50 347.82h1.5M677.90 347.82h-1.5M576.97 373.10v-1.5M576.97 221.40v1.5M526.50 322.53h1.5M677.90 322.53h-1.5M602.20 373.10v-1.5M602.20 221.40v1.5M526.50 297.25h1.5M677.90 297.25h-1.5M627.43 373.10v-1.5M627.43 221.40v1.5M526.50 271.97h1.5M677.90 271.97h-1.5M652.67 373.10v-1.5M652.67 221.40v1.5M526.50 246.68h1.5M677.90 246.68h-1.5M677.90 373.10v-1.5M677.90 221.40v1.5M526.50 221.40h1.5M677.90 221.40h-1.5" stroke="#808080" stroke-width="0.8" fill="none"/>
<text transform="translate(526.50 384.10) scale(1 1.1)" font-size="7.6" fill="#262626" text-anchor="middle">40</text>
<text transform="translate(523.50 376.40) scale(1 1.1)" font-size="7.6" fill="#262626" text-anchor="end">40</text>
<text transform="translate(551.73 384.10) scale(1 1.1)" font-size="7.6" fill="#262626" text-anchor="middle">50</text>
<text transform="translate(523.50 351.12) scale(1 1.1)" font-size="7.6" fill="#262626" text-anchor="end">50</text>
<text transform="translate(576.97 384.10) scale(1 1.1)" font-size="7.6" fill="#262626" text-anchor="middle">60</text>
<text transform="translate(523.50 325.83) scale(1 1.1)" font-size="7.6" fill="#262626" text-anchor="end">60</text>
<text transform="translate(602.20 384.10) scale(1 1.1)" font-size="7.6" fill="#262626" text-anchor="middle">70</text>
<text transform="translate(523.50 300.55) scale(1 1.1)" font-size="7.6" fill="#262626" text-anchor="end">70</text>
<text transform="translate(627.43 384.10) scale(1 1.1)" font-size="7.6" fill="#262626" text-anchor="middle">80</text>
<text transform="translate(523.50 275.27) scale(1 1.1)" font-size="7.6" fill="#262626" text-anchor="end">80</text>
<text transform="translate(652.67 384.10) scale(1 1.1)" font-size="7.6" fill="#262626" text-anchor="middle">90</text>
<text transform="translate(523.50 249.98) scale(1 1.1)" font-size="7.6" fill="#262626" text-anchor="end">90</text>
<text transform="translate(677.90 384.10) scale(1 1.1)" font-size="7.6" fill="#262626" text-anchor="middle">100</text>
<text transform="translate(523.50 224.70) scale(1 1.1)" font-size="7.6" fill="#262626" text-anchor="end">100</text>
<text transform="translate(601.60 217.90) scale(1 1.1)" font-size="9" font-weight="bold" fill="#000" text-anchor="middle" textLength="84.8" lengthAdjust="spacing">Fang [18]: R=0.9227</text>
<text transform="translate(601.80 396.50) scale(1 1.1)" font-size="9" font-weight="bold" fill="#262626" text-anchor="middle">Target</text>
<text transform="translate(505.80 297.75) rotate(-90)" font-size="9.3" font-weight="bold" fill="#262626" text-anchor="middle">Output ~= 0.91*Target + 6.9</text>
<rect x="532.80" y="227.30" width="46.4" height="31" fill="#fff" stroke="#808080" stroke-width="0.8"/>
<circle cx="546.71" cy="233.45" r="2.25" fill="none" stroke="#3a3a3a" stroke-width="0.7"/>
<line x1="535.00" y1="243.15" x2="558.41" y2="243.15" stroke="#00ff00" stroke-width="1.45"/>
<line x1="535.00" y1="252.85" x2="558.41" y2="252.85" stroke="#aaa" stroke-width="0.6" stroke-dasharray="0.8 1.2"/>
<text transform="translate(559.71 236.05) scale(1 1.1)" font-size="7" fill="#262626">Data</text>
<text transform="translate(559.71 245.75) scale(1 1.1)" font-size="7" fill="#262626">Fit</text>
<text transform="translate(559.71 255.45) scale(1 1.1)" font-size="7" fill="#262626">Y = T</text>
</svg></body></html>
